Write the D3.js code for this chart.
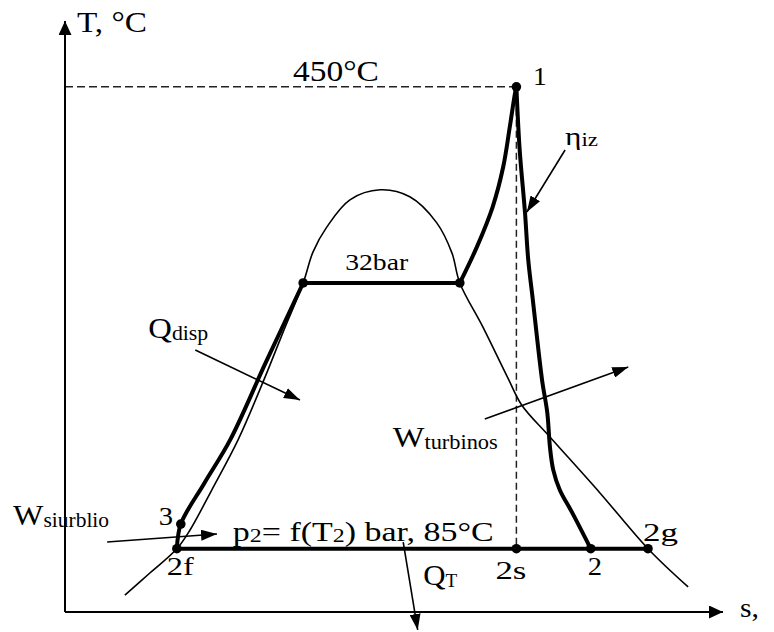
<!DOCTYPE html>
<html>
<head>
<meta charset="utf-8">
<script src="https://cdn.jsdelivr.net/npm/d3@7"></script>
<style>
  html, body { margin: 0; padding: 0; background: #fff; }
  svg { display: block; }
</style>
</head>
<body>
<svg id="chart" width="774" height="632"></svg>
<script>
// Steam (Rankine) cycle sketched on the T–s plane.
// Every curve is a list of [s, T] pairs: s in relative entropy units, T in °C.

const sDomain = [0, 10];
const tDomain = [35, 502];

// Saturation dome (liquid branch, critical region, vapour branch)
const saturationDome = [
  [0.91, 48.4], [1.29, 65.8], [1.70, 85.0], [1.90, 99.8], [2.23, 131.4],
  [2.63, 171.0], [3.01, 216.8], [3.31, 255.6], [3.62, 295.0], [3.77, 319.6],
  [3.98, 339.3], [4.33, 360.7], [4.79, 368.6], [5.24, 363.1], [5.65, 342.5],
  [5.88, 318.8], [6.00, 295.0], [6.35, 260.3], [6.73, 220.0], [6.94, 198.6],
  [7.37, 173.3], [8.13, 129.1], [8.86, 85.0], [9.47, 54.8]
];

// Pump (2f → 3) and feed-water heating up to the 32 bar boiling point
const pumpAndHeating = [[1.70, 85.0], [1.76, 104.5], [2.12, 137.0], [2.51, 171.0], [3.05, 232.0], [3.62, 295.0]];
// Evaporation at 32 bar
const evaporation = [[3.62, 295.0], [6.00, 295.0]];
// Superheating up to 450 °C
const superheating = [
  [6.00, 295.0], [6.26, 323.5], [6.50, 355.2], [6.66, 386.8], [6.76, 418.4],
  [6.84, 445.3], [6.86, 450.0]
];
// Real expansion in the turbine (1 → 2)
const turbineExpansion = [
  [6.86, 450.0], [6.91, 400.2], [6.99, 351.2], [7.04, 313.3], [7.11, 281.6],
  [7.25, 218.4], [7.33, 192.3], [7.37, 165.4], [7.42, 147.3], [7.52, 131.4],
  [7.71, 113.3], [7.99, 85.0]
];
// Condensation at p2 (85 °C)
const condensation = [[1.70, 85.0], [8.86, 85.0]];
// Ideal (isentropic) expansion 1 → 2s
const isentropicExpansion = [[6.86, 450.0], [6.86, 85.0]];
// Top-temperature guide line from the T axis
const topTemperatureGuide = [[0, 450.0], [6.86, 450.0]];

// Marked states
const stateNames = ["1", "3", "2f", "2s", "2", "2g"];
const stateS     = [6.86, 1.76, 1.70, 6.86, 7.99, 8.86];
const stateT     = [450.0, 104.5, 85.0, 85.0, 85.0, 85.0];
// Ends of the evaporation line
const boilingS = [3.62, 6.00];
const boilingT = [295.0, 295.0];

// Energy-flow arrows: [start, end] in [s, T]
const arrowNames = ["eta", "Qdisp", "Wturb", "Wpump", "QT"];
const arrowPaths = [
  [[7.60, 400.1], [7.02, 351.1]],
  [[1.98, 242.0], [3.57, 202.5]],
  [[6.38, 187.5], [8.56, 228.6]],
  [[0.64, 90.3], [2.31, 96.6]],
  [[5.14, 90.3], [5.36, 20.8]]
];

// Text
const axisTitles = ["T, °C", "s,"];
const topTemperatureText = "450°C";
const highPressureText = "32bar";

const FONT = "'Liberation Serif', 'Times New Roman', serif";
const svg = d3.select("#chart");

const x = d3.scaleLinear().domain(sDomain).range([65, 723]);
const y = d3.scaleLinear().domain(tDomain).range([612, 21]);

const straight = d3.line().x(d => x(d[0])).y(d => y(d[1]));
const smooth = d3.line().x(d => x(d[0])).y(d => y(d[1]))
  .curve(d3.curveCatmullRom.alpha(0.5));

// Arrowheads
const defs = svg.append("defs");
function head(id, len, wid) {
  defs.append("marker")
    .attr("id", id)
    .attr("viewBox", `0 0 ${len} ${wid}`)
    .attr("refX", len).attr("refY", wid / 2)
    .attr("markerWidth", len).attr("markerHeight", wid)
    .attr("markerUnits", "userSpaceOnUse")
    .attr("orient", "auto")
    .append("path")
    .attr("d", `M0,0L${len},${wid / 2}L0,${wid}Z`)
    .attr("fill", "#000");
}
head("axisHead", 14, 13);
head("flowHead", 16, 11);

// Dashed guide lines
svg.append("path").datum(topTemperatureGuide)
  .attr("d", straight).attr("fill", "none")
  .attr("stroke", "#222").attr("stroke-width", 1.4)
  .attr("stroke-dasharray", "8,4");
svg.append("path").datum(isentropicExpansion)
  .attr("d", straight).attr("fill", "none")
  .attr("stroke", "#222").attr("stroke-width", 1.5)
  .attr("stroke-dasharray", "7,4");

// Saturation dome
svg.append("path").datum(saturationDome)
  .attr("d", smooth).attr("fill", "none")
  .attr("stroke", "#000").attr("stroke-width", 1.6);

// Cycle lines
const thick = g => g.attr("fill", "none").attr("stroke", "#000")
  .attr("stroke-width", 4).attr("stroke-linecap", "round").attr("stroke-linejoin", "round");
svg.append("path").datum(pumpAndHeating).attr("d", smooth).call(thick);
svg.append("path").datum(evaporation).attr("d", straight).call(thick);
svg.append("path").datum(superheating).attr("d", smooth).call(thick);
svg.append("path").datum(turbineExpansion).attr("d", smooth).call(thick);
svg.append("path").datum(condensation).attr("d", straight).call(thick);

// State points
const dots = stateS.map((s, i) => [s, stateT[i]])
  .concat(boilingS.map((s, i) => [s, boilingT[i]]));
svg.append("g").selectAll("circle").data(dots).join("circle")
  .attr("cx", d => x(d[0])).attr("cy", d => y(d[1]))
  .attr("r", 4.8).attr("fill", "#000");

// Energy-flow arrows
svg.append("g").selectAll("path").data(arrowPaths).join("path")
  .attr("d", straight).attr("fill", "none")
  .attr("stroke", "#000").attr("stroke-width", 1.6)
  .attr("marker-end", "url(#flowHead)");

// Axes (no ticks, arrow tips only)
svg.append("path").datum([[sDomain[0], tDomain[0]], [sDomain[0], tDomain[1]]])
  .attr("d", straight).attr("fill", "none").attr("stroke", "#000")
  .attr("stroke-width", 2).attr("marker-end", "url(#axisHead)");
svg.append("path").datum([[sDomain[0], tDomain[0]], [sDomain[1], tDomain[0]]])
  .attr("d", straight).attr("fill", "none").attr("stroke", "#000")
  .attr("stroke-width", 2).attr("marker-end", "url(#axisHead)");

// Labels: parts are {text, size, sub}; width is the drawn width in px
function addLabel(px, py, parts, width) {
  const g = svg.append("g").attr("transform", `translate(${px},${py})`);
  const t = g.append("text").attr("font-family", FONT).attr("fill", "#000");
  let shift = 0;
  parts.forEach(p => {
    const off = p.sub ? 1.5 : 0;
    t.append("tspan").attr("font-size", p.size).attr("dy", off - shift).text(p.text);
    shift = off;
  });
  const adv = t.node().getComputedTextLength();
  const k = width ? width / adv : 1.1;
  t.attr("transform", `scale(${k},1)`);
}

// Axis titles
addLabel(77, 32, [{ text: axisTitles[0], size: 29 }], 70);
addLabel(740, 617, [{ text: axisTitles[1], size: 28 }], 19);

// Isotherm / isobar texts
addLabel(293, 81, [{ text: topTemperatureText, size: 29 }], 86);
addLabel(x(boilingS[0]) + 42, y(boilingT[0]) - 13, [{ text: highPressureText, size: 23 }], 63);
addLabel(x(condensation[0][0]) + 56, y(condensation[0][1]) - 8, [
  { text: "p", size: 27 }, { text: "2", size: 19, sub: true },
  { text: "= f(T", size: 27 }, { text: "2", size: 19, sub: true },
  { text: ") bar, 85°C", size: 27 }
], 261);

// State names, placed beside their points
const nameOffsets = [[16.5, -2, null], [-22, 0.5, null], [-10, 26, 27], [-21, 30, 31], [-3, 26, null], [-5, -8, 35]];
stateNames.forEach((n, i) => {
  const [dx, dy, w] = nameOffsets[i];
  addLabel(x(stateS[i]) + dx, y(stateT[i]) + dy, [{ text: n, size: n === "1" ? 25 : 26 }], w);
});

// Energy-flow names, placed at their arrows
const flowLabels = {
  eta:   { parts: [{ text: "η", size: 26 }, { text: "iz", size: 19, sub: true }], dx: 0, dy: -5, w: 33 },
  Qdisp: { parts: [{ text: "Q", size: 30 }, { text: "disp", size: 20, sub: true }], dx: -47, dy: -12, w: 60 },
  Wturb: { parts: [{ text: "W", size: 30 }, { text: "turbinos", size: 20, sub: true }], dx: -92, dy: 28, w: 105 },
  Wpump: { parts: [{ text: "W", size: 30 }, { text: "siurblio", size: 20, sub: true }], dx: -94, dy: -17, w: 96 },
  QT:    { parts: [{ text: "Q", size: 29 }, { text: "T", size: 18, sub: true }], dx: 20, dy: 43, w: 34 }
};
arrowNames.forEach((n, i) => {
  const L = flowLabels[n];
  const [s0, t0] = arrowPaths[i][0];
  addLabel(x(s0) + L.dx, y(t0) + L.dy, L.parts, L.w);
});
</script>
</body>
</html>
